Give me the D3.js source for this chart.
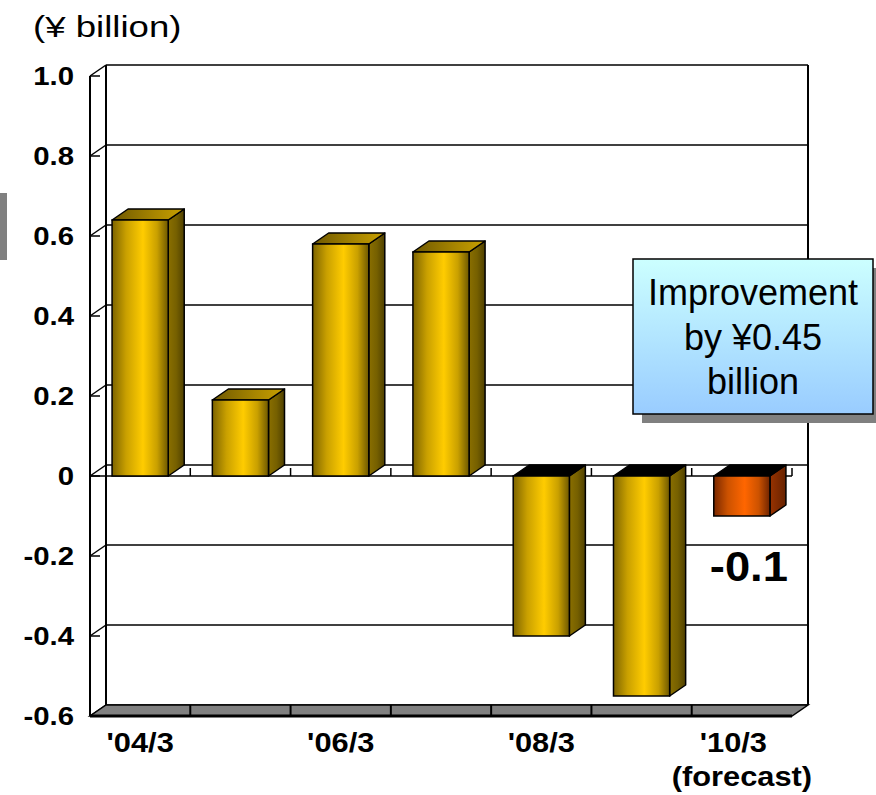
<!DOCTYPE html>
<html>
<head>
<meta charset="utf-8">
<script src="https://cdn.jsdelivr.net/npm/d3@7"></script>
<style>
  body { margin: 0; background: #fff; }
  text { font-family: Arial, "Liberation Sans", sans-serif; }
</style>
</head>
<body>
<div id="field"></div>
<script>
// data
const categories = ["'04/3", "'05/3", "'06/3", "'07/3", "'08/3", "'09/3", "'10/3"];
const values = [0.64, 0.19, 0.58, 0.56, -0.40, -0.55, -0.10];
const forecast = [false, false, false, false, false, false, true];
const xLabels = ["'04/3", "", "'06/3", "", "'08/3", "", "'10/3\u00a0\u00a0"];
const xSubLabels = ["", "", "", "", "", "", "(forecast)"];
const yTicks = [-0.6, -0.4, -0.2, 0, 0.2, 0.4, 0.6, 0.8, 1.0];
const unitLabel = "(¥ billion)";
const calloutLines = ["Improvement", "by ¥0.45", "billion"];
const lastValueLabel = "-0.1";

const width = 876, height = 795;
const dx = 16, dy = -11;   // depth offset of the 3d box

const chart = d3.select("#field").append("svg")
    .attr("width", width)
    .attr("height", height);

const x = d3.scaleBand()
    .domain(categories)
    .range([90, 792])
    .paddingInner(0.44)
    .paddingOuter(0.22);

const y = d3.scaleLinear()
    .domain([-0.6, 1.0])
    .range([716, 76]);

// gradients
const defs = chart.append("defs");
function hGrad(id, stops) {
    const g = defs.append("linearGradient").attr("id", id)
        .attr("x1", 0).attr("x2", 1).attr("y1", 0).attr("y2", 0);
    stops.forEach(function(s) {
        g.append("stop").attr("offset", s[0]).attr("stop-color", s[1]);
    });
}
hGrad("goldFront", [[0, "#7d6400"], [0.25, "#c9a000"], [0.55, "#ffcc00"], [0.8, "#c9a000"], [1, "#6e5800"]]);
hGrad("goldSide", [[0, "#8a6f00"], [0.5, "#766000"], [1, "#4f4000"]]);
hGrad("goldTop", [[0, "#6e5800"], [0.6, "#a88600"], [1, "#c9a000"]]);
hGrad("orangeFront", [[0, "#7a2800"], [0.25, "#cc5200"], [0.55, "#ff6600"], [0.8, "#cc5200"], [1, "#702400"]]);
hGrad("orangeSide", [[0, "#993300"], [1, "#662200"]]);
const boxGrad = defs.append("linearGradient").attr("id", "boxGrad")
    .attr("x1", 0).attr("x2", 0).attr("y1", 0).attr("y2", 1);
boxGrad.append("stop").attr("offset", 0).attr("stop-color", "#ccffff");
boxGrad.append("stop").attr("offset", 1).attr("stop-color", "#99ccff");

// small gray mark at the left edge
chart.append("rect")
    .attr("x", 0).attr("y", 193)
    .attr("width", 7).attr("height", 67)
    .attr("fill", "#808080");

// back wall
const x0 = x.range()[0], x1 = x.range()[1];
const walls = chart.append("g").attr("class", "walls");

walls.selectAll("line.grid")
    .data(yTicks)
    .enter().append("line")
    .attr("class", "grid")
    .attr("x1", x0 + dx).attr("x2", x1 + dx)
    .attr("y1", function(d) { return y(d) + dy; })
    .attr("y2", function(d) { return y(d) + dy; })
    .attr("stroke", "#000")
    .attr("stroke-width", 1.5);

// side wall diagonals
walls.selectAll("line.diag")
    .data(yTicks)
    .enter().append("line")
    .attr("class", "diag")
    .attr("x1", x0).attr("x2", x0 + dx)
    .attr("y1", function(d) { return y(d); })
    .attr("y2", function(d) { return y(d) + dy; })
    .attr("stroke", "#000")
    .attr("stroke-width", 1.5);

// small ticks on the front axis
walls.selectAll("line.tick")
    .data(yTicks)
    .enter().append("line")
    .attr("x1", x0).attr("x2", x0 + 10)
    .attr("y1", function(d) { return y(d); })
    .attr("y2", function(d) { return y(d); })
    .attr("stroke", "#000")
    .attr("stroke-width", 1.5);

// wall verticals
walls.append("line")
    .attr("x1", x0 + dx).attr("x2", x0 + dx)
    .attr("y1", y(1.0) + dy).attr("y2", y(-0.6) + dy)
    .attr("stroke", "#000").attr("stroke-width", 2);
walls.append("line")
    .attr("x1", x1 + dx).attr("x2", x1 + dx)
    .attr("y1", y(1.0) + dy).attr("y2", y(-0.6) + dy)
    .attr("stroke", "#000").attr("stroke-width", 2);
walls.append("line")
    .attr("x1", x0).attr("x2", x0)
    .attr("y1", y(1.0)).attr("y2", y(-0.6))
    .attr("stroke", "#000").attr("stroke-width", 2);

// floor
const yFloor = y(-0.6);
walls.append("path")
    .attr("d", "M" + x0 + "," + yFloor + "L" + x1 + "," + yFloor +
        "L" + (x1 + dx) + "," + (yFloor + dy) + "L" + (x0 + dx) + "," + (yFloor + dy) + "Z")
    .attr("fill", "#808080")
    .attr("stroke", "#000")
    .attr("stroke-width", 1.5);
walls.append("line")
    .attr("x1", x0).attr("x2", x1)
    .attr("y1", yFloor).attr("y2", yFloor)
    .attr("stroke", "#000").attr("stroke-width", 3);

// category boundaries
const boundaryX = d3.range(1, categories.length + 1).map(function(i) {
    return x(categories[i - 1]) + x.bandwidth() + (x.step() - x.bandwidth()) / 2;
});
walls.selectAll("line.floordiv")
    .data(boundaryX.slice(0, -1))
    .enter().append("line")
    .attr("x1", function(d) { return d; }).attr("x2", function(d) { return d; })
    .attr("y1", yFloor).attr("y2", yFloor + dy)
    .attr("stroke", "#000").attr("stroke-width", 2);

// zero line at the front, with ticks
walls.append("line")
    .attr("x1", x0).attr("x2", x1)
    .attr("y1", y(0)).attr("y2", y(0))
    .attr("stroke", "#000").attr("stroke-width", 1.5);
walls.selectAll("line.zerotick")
    .data(boundaryX)
    .enter().append("line")
    .attr("x1", function(d) { return d; }).attr("x2", function(d) { return d; })
    .attr("y1", y(0)).attr("y2", y(0) - 8)
    .attr("stroke", "#000").attr("stroke-width", 1.5);

// bars
const bars = chart.append("g").attr("class", "bars")
    .selectAll("g")
    .data(values.map(function(v, i) { return {cat: categories[i], value: v, forecast: forecast[i]}; }))
    .enter().append("g");

function poly(pts) {
    return "M" + pts.map(function(p) { return p.join(","); }).join("L") + "Z";
}

bars.each(function(d) {
    const g = d3.select(this);
    const bx0 = x(d.cat), bx1 = x(d.cat) + x.bandwidth();
    const yTop = y(Math.max(0, d.value)), yBot = y(Math.min(0, d.value));
    const front = d.forecast ? "url(#orangeFront)" : "url(#goldFront)";
    const side = d.forecast ? "url(#orangeSide)" : "url(#goldSide)";
    const top = d.value < 0 ? "#000" : "url(#goldTop)";

    g.append("path")
        .attr("d", poly([[bx1, yTop], [bx1 + dx, yTop + dy], [bx1 + dx, yBot + dy], [bx1, yBot]]))
        .attr("fill", side).attr("stroke", "#000").attr("stroke-width", 1.5)
        .attr("stroke-linejoin", "round");
    g.append("path")
        .attr("d", poly([[bx0, yTop], [bx1, yTop], [bx1 + dx, yTop + dy], [bx0 + dx, yTop + dy]]))
        .attr("fill", top).attr("stroke", "#000").attr("stroke-width", 1.5)
        .attr("stroke-linejoin", "round");
    g.append("rect")
        .attr("x", bx0).attr("y", yTop)
        .attr("width", bx1 - bx0).attr("height", yBot - yTop)
        .attr("fill", front).attr("stroke", "#000").attr("stroke-width", 1.5);
});

// y axis labels
const yAxis = d3.axisLeft(y)
    .tickValues(yTicks)
    .tickSize(0)
    .tickFormat(function(d) { return d === 0 ? "0" : d.toFixed(1); });

const yG = chart.append("g")
    .attr("transform", "translate(74,0)")
    .call(yAxis);
yG.select(".domain").remove();
yG.selectAll("text")
    .attr("x", 0)
    .attr("dy", "0.34em")
    .attr("transform", "scale(1.13,1)")
    .attr("fill", "#000")
    .style("font-size", "26px")
    .style("font-weight", "bold")
    .style("font-family", "Arial, 'Liberation Sans', sans-serif");

// x axis labels
const xAxis = d3.axisBottom(x)
    .tickSize(0)
    .tickFormat(function(d, i) { return xLabels[i]; });

const xG = chart.append("g")
    .attr("transform", "translate(0,752)")
    .call(xAxis);
xG.select(".domain").remove();
xG.selectAll("text")
    .attr("y", 0)
    .attr("dy", 0)
    .attr("transform", "scale(1.1,1)")
    .attr("fill", "#000")
    .style("font-size", "28px")
    .style("font-weight", "bold")
    .style("font-family", "Arial, 'Liberation Sans', sans-serif");
xG.selectAll(".tick").each(function(d, i) {
    if (!xSubLabels[i]) return;
    d3.select(this).append("text")
        .attr("y", 34)
        .attr("text-anchor", "middle")
        .attr("transform", "scale(1.1,1)")
        .attr("fill", "#000")
        .style("font-size", "28px")
        .style("font-weight", "bold")
        .text(xSubLabels[i]);
});

// unit label
chart.append("text")
    .attr("transform", "translate(33,37) scale(1.22,1)")
    .style("font-size", "30px")
    .text(unitLabel);

// label of the forecast value
const lastIdx = values.length - 1;
chart.append("text")
    .attr("transform", "translate(" + (x(categories[lastIdx]) + x.bandwidth() / 2 + 7) + ",581) scale(1.08,1)")
    .attr("text-anchor", "middle")
    .style("font-size", "42px")
    .style("font-weight", "bold")
    .text(lastValueLabel);

// callout box
const box = {x: 633, y: 259, w: 240, h: 155};
chart.append("rect")
    .attr("x", box.x + 9).attr("y", box.y + 9)
    .attr("width", box.w).attr("height", box.h)
    .attr("fill", "#808080");
chart.append("rect")
    .attr("x", box.x).attr("y", box.y)
    .attr("width", box.w).attr("height", box.h)
    .attr("fill", "url(#boxGrad)")
    .attr("stroke", "#000")
    .attr("stroke-width", 1.5);
chart.append("g").selectAll("text")
    .data(calloutLines)
    .enter().append("text")
    .attr("x", box.x + box.w / 2)
    .attr("y", function(d, i) { return 305 + i * 44.5; })
    .attr("text-anchor", "middle")
    .style("font-size", "36px")
    .text(function(d) { return d; });
</script>
</body>
</html>
